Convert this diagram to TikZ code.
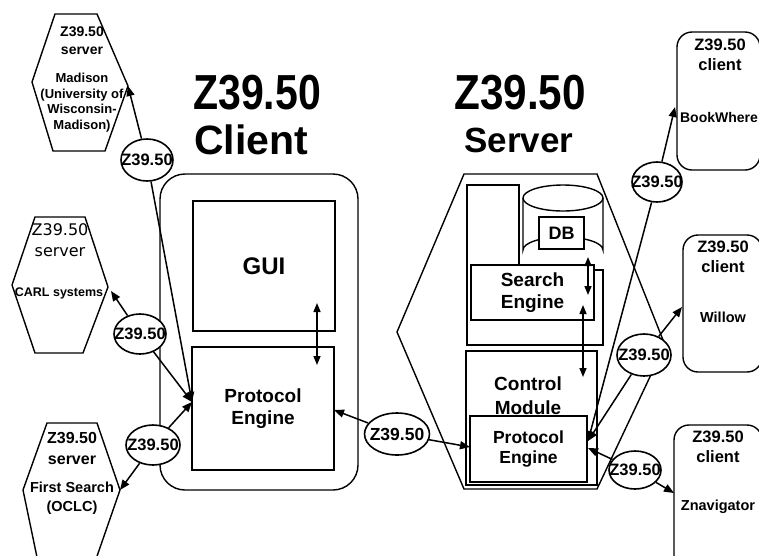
\documentclass[tikz,border=0pt]{standalone}
\usepackage{fontspec}
\usepackage{graphicx}
\setmainfont{Liberation Sans}
\newfontfamily\dejavu{DejaVu Sans}
\usetikzlibrary{arrows.meta,shapes.geometric}

\tikzset{
  wire/.style={line width=1.5pt},
  tip/.style={-{Triangle[length=10pt,width=8pt]}},
  twotips/.style={{Triangle[length=9pt,width=7pt]}-{Triangle[length=9pt,width=7pt]}},
  frame/.style={draw, line width=1.4pt},
  boxst/.style={draw, line width=1.4pt, fill=white, inner sep=0pt, align=center,
                font=\bfseries\fontsize{19}{22}\selectfont},
  tag/.style={ellipse, draw, line width=1.6pt, fill=white, inner sep=0pt,
              font=\bfseries\fontsize{16.5}{16.5}\selectfont},
  lbl/.style={inner sep=0pt, align=center},
  title/.style={inner sep=0pt, font=\bfseries\fontsize{41}{41}\selectfont},
}

\begin{document}
\begin{tikzpicture}[x=1pt,y=-1pt]
\useasboundingbox (0,0) rectangle (759,555);
\clip (0,0) rectangle (759,555);

% ---------- titles ----------
\node[title] (tClientA) at (257,93) {\scalebox{1}[1.2]{Z39.50}};
\node[title] (tClientB) at (251,140) {Client};
\node[title] (tServerA) at (520,93) {\scalebox{1.03}[1.2]{Z39.50}};
\node[title, font=\bfseries\fontsize{35}{35}\selectfont] (tServerB) at (519,140) {Server};

% ---------- left-hand servers (hexagons) ----------
\draw[frame] (55,14) -- (97,14) -- (128,86) -- (105,151) -- (53,151) -- (32,82) -- cycle;
\coordinate (madR) at (128,86);
\node[lbl, font=\bfseries\fontsize{14}{18}\selectfont] (madA) at (82,41) {Z39.50\\server};
\node[lbl, font=\bfseries\fontsize{13}{15.5}\selectfont] (madB) at (82,102.5)
  {Madison\\(University of\\Wisconsin-\\Madison)};

\draw[frame] (35,217) -- (85,217) -- (108,287) -- (83,353) -- (35,353) -- (12,285) -- cycle;
\coordinate (carlR) at (111,291);
\node[lbl, font=\dejavu\fontsize{16}{21}\selectfont] (carlA) at (60,240.5) {Z39.50\\server};
\node[lbl, font=\bfseries\fontsize{12.5}{14}\selectfont] (carlB) at (59,293) {CARL systems};

\draw[frame] (38,562) -- (23,490) -- (47,423) -- (97,423) -- (120,490) -- (95,562);
\coordinate (fsR) at (120,490);
\node[lbl, font=\bfseries\fontsize{16}{21}\selectfont] (fsA) at (72,448.5) {Z39.50\\server};
\node[lbl, font=\bfseries\fontsize{14.5}{19}\selectfont] (fsB) at (72,498.5) {First Search\\(OCLC)};

% ---------- Z39.50 client ----------
\draw[frame, rounded corners=25pt] (160,174) rectangle (358,490);
\node[boxst, minimum width=142pt, minimum height=130pt, font=\bfseries\fontsize{24}{24}\selectfont]
  (gui) at (264,266) {\raisebox{-2pt}{GUI}};
\node[boxst, minimum width=142pt, minimum height=123pt] (cpe) at (263,408.5) {Protocol\\Engine};
\coordinate (guiA) at (317,303);
\coordinate (cpeA) at (317,365);
\draw[wire, twotips] (guiA) -- (cpeA);
\coordinate (cpeL) at (192,402);
\coordinate (cpeR) at (334,410);

% ---------- Z39.50 server ----------
\draw[frame] (464,174) -- (597,174) -- (665,345) -- (597,489) -- (464,489) -- (397,332) -- cycle;
\draw[frame] (467,185) -- (519,185) -- (519,270) -- (603,270) -- (603,345) -- (467,345) -- cycle;
\node[boxst, minimum width=123pt, minimum height=55pt] (search) at (532.5,292.5) {Search\\Engine};
% database cylinder
\draw[frame, fill=white] (523,198) -- (523,250) arc[start angle=180, end angle=360, x radius=40, y radius=13]
  -- (603,198);
\draw[frame, fill=white] (563,198) ellipse[x radius=40, y radius=13];
\node[boxst, minimum width=45pt, minimum height=32pt, font=\bfseries\fontsize{18}{18}\selectfont]
  (db) at (561.5,233) {DB};
\coordinate (dbA) at (588,257);
\coordinate (searchA) at (588,295);
\draw[wire, twotips] (dbA) -- (searchA);
% control module with its protocol engine
\node[draw, line width=1.4pt, minimum width=131pt, minimum height=134pt, inner sep=0pt]
  (ctrl) at (531.5,418) {};
\node[lbl, font=\bfseries\fontsize{19}{24}\selectfont] (ctrlLbl) at (528,396) {Control\\Module};
\node[boxst, minimum width=117pt, minimum height=66pt, font=\bfseries\fontsize{17.5}{20}\selectfont]
  (spe) at (528.5,449) {Protocol\\Engine};
\coordinate (searchB) at (583,305);
\coordinate (ctrlA) at (583,377);
\draw[wire, twotips] (searchB) -- (ctrlA);
\coordinate (speL) at (470,447);
\coordinate (speR) at (588,441);
\coordinate (speR2) at (588,448);

% ---------- right-hand clients ----------
\draw[frame, rounded corners=15pt] (677,32) rectangle (760,170);
\node[lbl, font=\bfseries\fontsize{16.5}{20}\selectfont] (bwA) at (720,55) {Z39.50\\client};
\node[lbl, font=\bfseries\fontsize{14}{14}\selectfont] (bwB) at (719,117) {BookWhere};
\coordinate (bwL) at (675,107);

\draw[frame, rounded corners=15pt] (683,235) rectangle (762,372);
\node[lbl, font=\bfseries\fontsize{16.5}{20}\selectfont] (wilA) at (723,257) {Z39.50\\client};
\node[lbl, font=\bfseries\fontsize{14.5}{14}\selectfont] (wilB) at (723,317) {Willow};
\coordinate (wilL) at (682,307);

\draw[frame, rounded corners=15pt] (674,425) rectangle (762,580);
\node[lbl, font=\bfseries\fontsize{16.5}{20}\selectfont] (znA) at (718,447) {Z39.50\\client};
\node[lbl, font=\bfseries\fontsize{14.5}{14}\selectfont] (znB) at (718,507) {Znavigator};
\coordinate (znL) at (674,493);

% ---------- protocol links ----------
\node[tag, minimum width=52pt, minimum height=42pt] (eMad) at (147,160) {\makebox[0pt]{Z39.50}};
\node[tag, minimum width=52pt, minimum height=40pt] (eCarl) at (140,334) {\makebox[0pt]{Z39.50}};
\node[tag, minimum width=54pt, minimum height=40pt] (eFs) at (153,445) {\makebox[0pt]{Z39.50}};
\node[tag, minimum width=65pt, minimum height=42pt, font=\bfseries\fontsize{17.5}{17.5}\selectfont]
  (eMid) at (397,434) {\makebox[0pt]{Z39.50}};
\node[tag, minimum width=50pt, minimum height=40pt] (eBw) at (657,182) {\makebox[0pt]{Z39.50}};
\node[tag, minimum width=54pt, minimum height=42pt] (eWil) at (644,355) {\makebox[0pt]{Z39.50}};
\node[tag, minimum width=52pt, minimum height=38pt] (eZn) at (635,470) {\makebox[0pt]{Z39.50}};

\draw[wire, tip] (eMad) -- (madR);
\draw[wire, tip] (eMad) -- (cpeL);
\draw[wire, tip] (eCarl) -- (carlR);
\draw[wire, tip] (eCarl) -- (cpeL);
\draw[wire, tip] (eFs) -- (fsR);
\draw[wire, tip] (eFs) -- (cpeL);
\draw[wire, tip] (eMid) -- (cpeR);
\draw[wire, tip] (eMid) -- (speL);
\draw[wire, tip] (eBw) -- (bwL);
\draw[wire, tip] (eBw) -- (speR);
\draw[wire, tip] (eWil) -- (wilL);
\draw[wire, tip] (eWil) -- (speR);
\draw[wire, tip] (eZn) -- (znL);
\draw[wire, tip] (eZn) -- (speR2);
\end{tikzpicture}
\end{document}
